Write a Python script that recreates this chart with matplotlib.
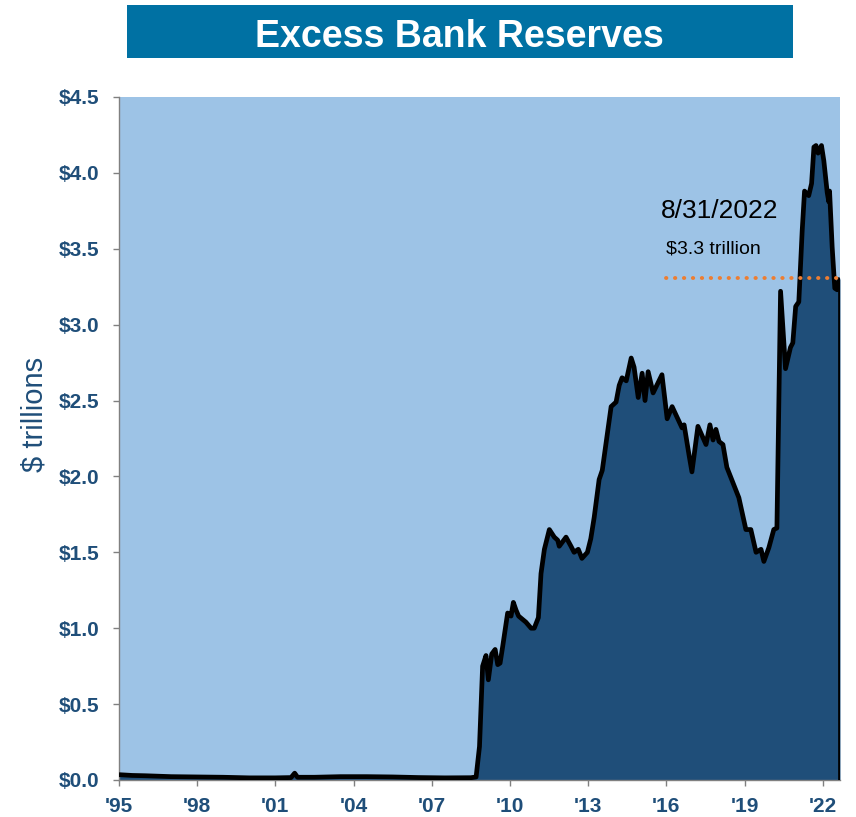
import numpy as np
import matplotlib.pyplot as plt
from matplotlib.patches import Rectangle

plt.rcParams['font.family'] = ['Liberation Sans', 'DejaVu Sans']

# excess reserves, $ trillions (decimal years)
years = [1995.0, 1995.5, 1996.0, 1997.0, 1998.0, 1999.0, 2000.0, 2001.0, 2001.6, 2001.74,
         2001.85, 2002.5, 2003.5, 2004.5, 2005.5, 2006.5, 2007.5, 2008.5, 2008.70, 2008.83,
         2008.95, 2009.08, 2009.17, 2009.30, 2009.43, 2009.53, 2009.62, 2009.72, 2009.91, 2010.04,
         2010.13, 2010.23, 2010.33, 2010.61, 2010.81, 2010.93, 2011.09, 2011.19, 2011.32, 2011.51,
         2011.70, 2011.83, 2011.89, 2012.15, 2012.34, 2012.46, 2012.62, 2012.76, 2012.97, 2013.10,
         2013.23, 2013.42, 2013.54, 2013.88, 2014.07, 2014.19, 2014.30, 2014.46, 2014.65, 2014.76,
         2014.92, 2015.07, 2015.18, 2015.30, 2015.49, 2015.83, 2016.03, 2016.22, 2016.41, 2016.60,
         2016.68, 2016.87, 2016.98, 2017.21, 2017.52, 2017.67, 2017.79, 2017.90, 2018.02, 2018.17,
         2018.32, 2018.78, 2019.05, 2019.24, 2019.44, 2019.63, 2019.74, 2019.93, 2020.12, 2020.24,
         2020.38, 2020.57, 2020.76, 2020.85, 2020.96, 2021.08, 2021.21, 2021.30, 2021.46, 2021.57,
         2021.66, 2021.74, 2021.82, 2021.95, 2022.04, 2022.17, 2022.23, 2022.26, 2022.36, 2022.46,
         2022.55, 2022.66]
reserves = [0.035, 0.03, 0.028, 0.022, 0.02, 0.018, 0.014, 0.014, 0.016, 0.045,
            0.018, 0.018, 0.022, 0.022, 0.02, 0.016, 0.014, 0.015, 0.02, 0.22,
            0.75, 0.82, 0.66, 0.83, 0.86, 0.76, 0.77, 0.88, 1.10, 1.08,
            1.17, 1.12, 1.08, 1.04, 1.00, 1.00, 1.07, 1.36, 1.52, 1.65,
            1.60, 1.58, 1.54, 1.60, 1.54, 1.50, 1.52, 1.46, 1.50, 1.59,
            1.73, 1.98, 2.04, 2.46, 2.49, 2.60, 2.65, 2.63, 2.78, 2.72,
            2.52, 2.68, 2.50, 2.69, 2.55, 2.67, 2.38, 2.46, 2.39, 2.32,
            2.34, 2.14, 2.03, 2.33, 2.21, 2.34, 2.24, 2.31, 2.23, 2.21,
            2.06, 1.86, 1.65, 1.65, 1.50, 1.52, 1.44, 1.53, 1.65, 1.66,
            3.22, 2.71, 2.85, 2.88, 3.12, 3.15, 3.62, 3.88, 3.85, 3.93,
            4.17, 4.18, 4.13, 4.18, 4.08, 3.87, 3.81, 3.88, 3.51, 3.24,
            3.23, 3.31]

yticks = [0.0, 0.5, 1.0, 1.5, 2.0, 2.5, 3.0, 3.5, 4.0, 4.5]
xticks = [1995, 1998, 2001, 2004, 2007, 2010, 2013, 2016, 2019, 2022]
xlabels = ["'95", "'98", "'01", "'04", "'07", "'10", "'13", "'16", "'19", "'22"]
title = 'Excess Bank Reserves'
date_note = '8/31/2022'
value_note = '$3.3 trillion'

navy = '#1F4E79'
sky = '#9DC3E6'
teal = '#0071A3'
orange = '#ED7D31'

fig = plt.figure(figsize=(8.56, 8.17), dpi=100)
ax = fig.add_axes([0.139, 0.0453, 0.8423, 0.836])
ax.set_facecolor(sky)

ax.fill_between(years, reserves, 0, color=navy, lw=0, zorder=2)
ax.plot(years, reserves, color='black', lw=3.4, solid_joinstyle='round',
        solid_capstyle='butt', zorder=3)
ax.vlines(years[-1], 0, reserves[-1], color='black', lw=3.4, zorder=3)

# marker line at the latest value
ax.hlines(reserves[-1], 2016.0, years[-1], color=orange, lw=2.8,
          linestyles=(0, (0.1, 2.2)), capstyle='round', zorder=4)
ax.text(2015.8, 3.75, date_note, fontsize=19, color='black', va='center', ha='left')
ax.text(2016.0, 3.50, value_note, fontsize=14, color='black', va='center', ha='left')

ax.set_xlim(years[0], years[-1])
ax.set_ylim(0, 4.5)
ax.set_yticks(yticks)
ax.set_yticklabels(['$%.1f' % v for v in yticks])
ax.set_xticks(xticks)
ax.set_xticklabels(xlabels)
ax.tick_params(axis='both', colors='#808080', length=4, width=1, labelcolor=navy,
               labelsize=15)
ax.tick_params(axis='y', pad=10)
ax.tick_params(axis='x', pad=8)
for lab in ax.get_xticklabels() + ax.get_yticklabels():
    lab.set_fontweight('bold')
for s in ['top', 'right']:
    ax.spines[s].set_visible(False)
for s in ['left', 'bottom']:
    ax.spines[s].set_color('#808080')
    ax.spines[s].set_linewidth(1)
ax.set_ylabel('$ trillions', fontsize=21, color=navy)
ax.yaxis.set_label_coords(-0.098, 0.535)

# title banner
fig.patches.append(Rectangle((0.148, 0.929), 0.778, 0.0649, transform=fig.transFigure,
                             facecolor=teal, edgecolor='none'))
fig.text(0.537, 0.955, title, fontsize=27, fontweight='bold', color='white',
         ha='center', va='center')

fig.savefig('out.png', dpi=100)
